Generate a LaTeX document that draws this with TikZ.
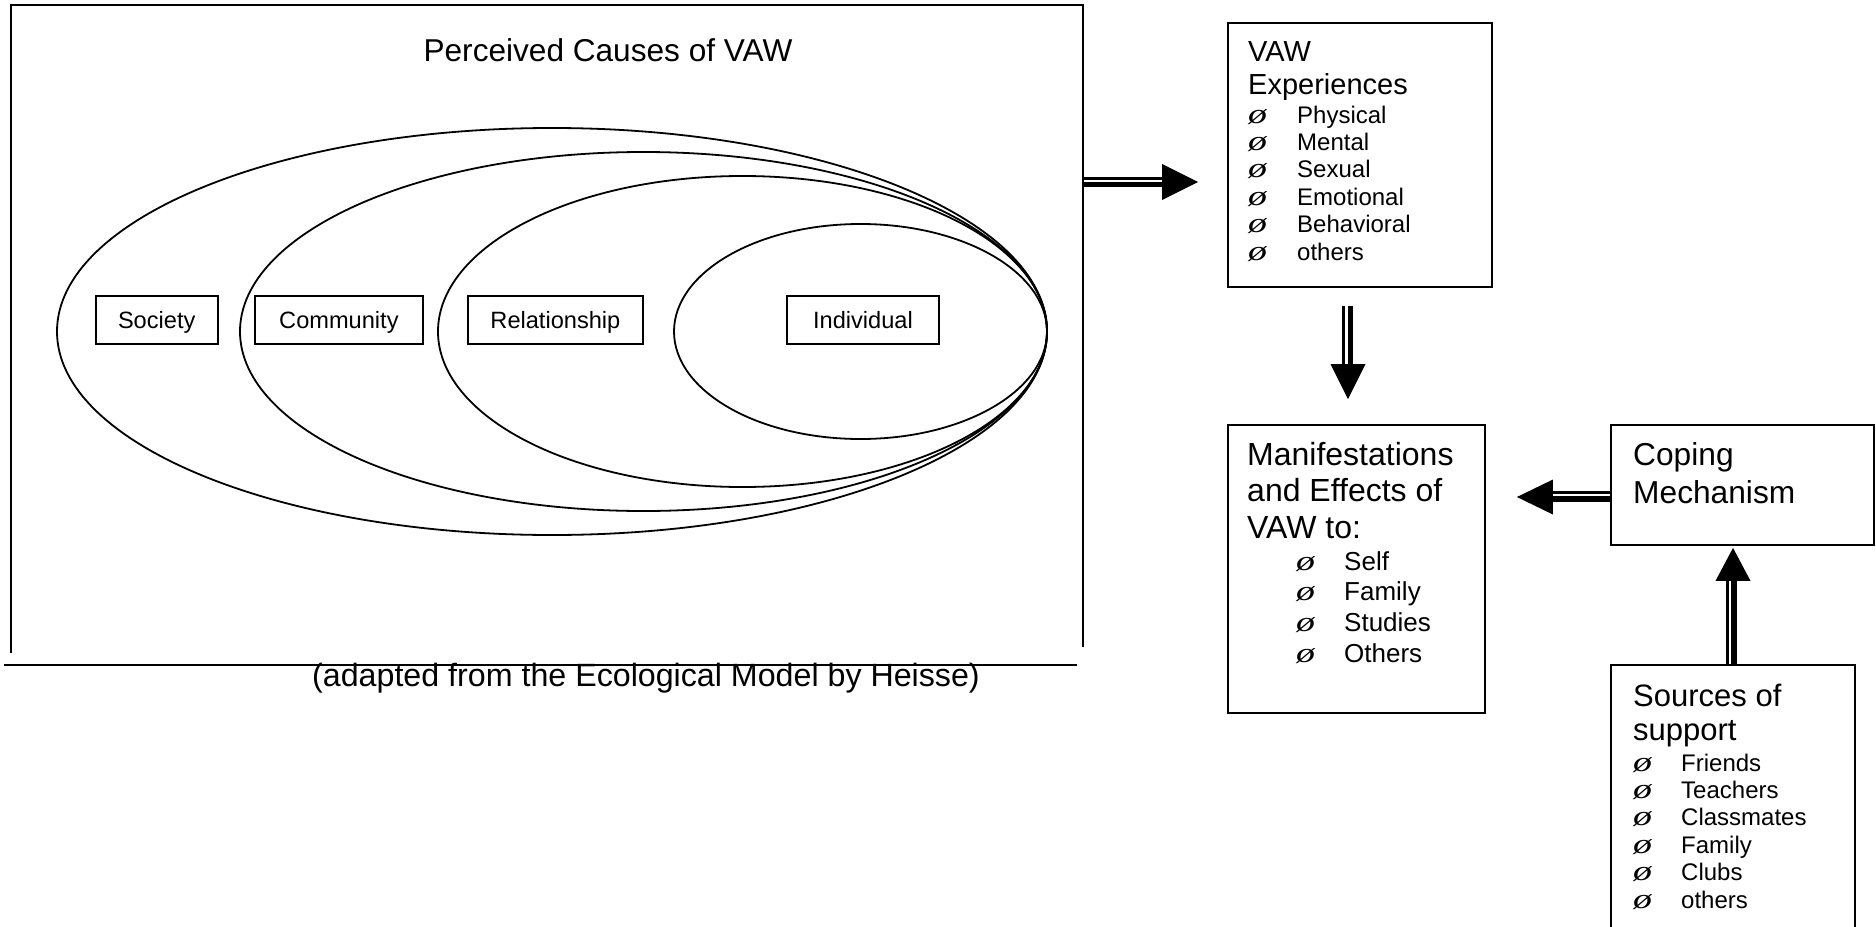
\documentclass[tikz,border=0pt]{standalone}
\usepackage{fontspec}
\setmainfont{Liberation Sans}
\newfontfamily\bltfont{Liberation Serif}
\usetikzlibrary{calc}
\newcommand\blt{\scalebox{1.35}[1]{\bltfont\itshape\fontsize{28}{28}\selectfont ø}}
\tikzset{
  box/.style={draw, line width=1.8pt, inner sep=0pt},
  lbl/.style={box, text height=18pt, text depth=0pt, minimum height=48pt, font=\fontsize{23.6}{28}\selectfont},
  ring/.style={line width=1.8pt},
  frameline/.style={line width=1.8pt},
  head/.style={font=\fontsize{32}{38}\selectfont, anchor=base west, inner sep=0pt},
  item/.style={font=\fontsize{24}{28}\selectfont, anchor=base west, inner sep=0pt},
  bigitem/.style={font=\fontsize{26}{30}\selectfont, anchor=base west, inner sep=0pt},
  thinshaft/.style={line width=3pt},
  thickshaft/.style={line width=5pt},
  thickershaft/.style={line width=6pt},
}
\begin{document}
\begin{tikzpicture}[x=1pt,y=-1pt]
\useasboundingbox (0,0) rectangle (1876,926);
\clip (0,0) rectangle (1876,926);
\fill[white] (0,0) rectangle (1876,926);

% frame and rule
\draw[frameline] (11,653) -- (11,5) -- (1083,5) -- (1083,647);
\draw[frameline] (4,665) -- (1077,665);
\node[anchor=base, inner sep=0pt, font=\fontsize{31.6}{37}\selectfont] (title) at (608,61) {Perceived Causes of VAW};
\node[anchor=base, inner sep=0pt, font=\fontsize{32.2}{38}\selectfont] (caption) at (646,686) {(adapted from the Ecological Model by Heisse)};

% nested ellipses
\draw[ring] (552,331.5) ellipse [x radius=495pt, y radius=203.5pt];
\draw[ring] (643.5,331.5) ellipse [x radius=403.5pt, y radius=179.5pt];
\draw[ring] (742.5,331.5) ellipse [x radius=304.5pt, y radius=155.5pt];
\draw[ring] (860.5,331.5) ellipse [x radius=186.5pt, y radius=107.5pt];

% level labels
\node[lbl, minimum width=122pt] (society) at (156.7,319.7) {Society};
\node[lbl, minimum width=167.7pt] (community) at (338.9,319.7) {Community};
\node[lbl, minimum width=175.3pt] (relationship) at (555.4,319.7) {Relationship};
\node[lbl, minimum width=152.6pt] (individual) at (863,319.7) {Individual};

% right-hand boxes
\node[box, minimum width=264pt, minimum height=264pt] (vaw) at (1360,155) {};
\node[box, minimum width=257pt, minimum height=288pt] (man) at (1356.5,569) {};
\node[box, minimum width=263pt, minimum height=120pt] (coping) at (1742.5,485) {};
\node[box, minimum width=244pt, minimum height=300pt] (src) at (1733,815) {};

% VAW Experiences text
\node[head, font=\fontsize{29}{34}\selectfont] (vawt1) at (1248,61) {VAW};
\node[head, font=\fontsize{29}{34}\selectfont] (vawt2) at (1248,94) {Experiences};
\foreach \t [count=\i] in {Physical, Mental, Sexual, Emotional, Behavioral, others} {
  \node[item] (vawb\i) at (1248, 95.6+27.4*\i) {\blt};
  \node[item] (vawi\i) at (1297, 95.6+27.4*\i) {\t};
}

% Manifestations text
\node[head] (mant1) at (1247,465) {Manifestations};
\node[head] (mant2) at (1247,501.5) {and Effects of};
\node[head] (mant3) at (1247,538) {VAW to:};
\foreach \t [count=\i] in {Self, Family, Studies, Others} {
  \node[item] (manb\i) at (1296, 539.3+30.7*\i) {\blt};
  \node[bigitem] (mani\i) at (1344, 539.3+30.7*\i) {\t};
}

% Coping text
\node[head, font=\fontsize{31.7}{38}\selectfont] (copt1) at (1633,465) {Coping};
\node[head, font=\fontsize{31.7}{38}\selectfont] (copt2) at (1633,503) {Mechanism};

% Sources text
\node[head, font=\fontsize{31}{37}\selectfont] (srct1) at (1633,706) {Sources of};
\node[head, font=\fontsize{31}{37}\selectfont] (srct2) at (1633,740) {support};
\foreach \t [count=\i] in {Friends, Teachers, Classmates, Family, Clubs, others} {
  \node[item] (srcb\i) at (1633, 743.6+27.4*\i) {\blt};
  \node[item] (srci\i) at (1681, 743.6+27.4*\i) {\t};
}

% arrow 1: frame -> VAW Experiences
\coordinate (fR) at (1083,182);
\coordinate (a1e) at (fR -| vaw.west);
\fill ($(a1e)+(-29,0)$) -- ($(a1e)+(-65,-18)$) -- ($(a1e)+(-65,18)$) -- cycle;
\draw[thinshaft] ($(fR)+(0,-3.5)$) -- ($(a1e)+(-63,-3.5)$);
\draw[thickshaft] ($(fR)+(0,2.5)$) -- ($(a1e)+(-63,2.5)$);

% arrow 2: VAW Experiences -> Manifestations
\coordinate (a2s) at ([xshift=-12pt]vaw.south);
\coordinate (a2e) at (a2s |- man.north);
\fill ($(a2e)+(0,-25)$) -- ($(a2e)+(-17.5,-60)$) -- ($(a2e)+(17.5,-60)$) -- cycle;
\draw[thinshaft] ($(a2s)+(-4.5,18)$) -- ($(a2e)+(-4.5,-58)$);
\draw[thickshaft] ($(a2s)+(2.5,18)$) -- ($(a2e)+(2.5,-58)$);

% arrow 3: Coping -> Manifestations
\coordinate (a3s) at ([yshift=-12pt]coping.west);
\coordinate (a3e) at (a3s -| man.east);
\fill ($(a3e)+(31,0)$) -- ($(a3e)+(67,-17.5)$) -- ($(a3e)+(67,17.5)$) -- cycle;
\draw[thinshaft] ($(a3s)+(0,-5)$) -- ($(a3e)+(65,-5)$);
\draw[thickershaft] ($(a3s)+(0,1.5)$) -- ($(a3e)+(65,1.5)$);

% arrow 4: Sources -> Coping
\coordinate (a4s) at (src.north);
\coordinate (a4e) at (a4s |- coping.south);
\fill ($(a4e)+(0,2)$) -- ($(a4e)+(-17.5,35)$) -- ($(a4e)+(17.5,35)$) -- cycle;
\draw[thinshaft] ($(a4s)+(-5.5,0)$) -- ($(a4e)+(-5.5,33)$);
\draw[thickershaft] ($(a4s)+(0.5,0)$) -- ($(a4e)+(0.5,33)$);
\end{tikzpicture}
\end{document}
